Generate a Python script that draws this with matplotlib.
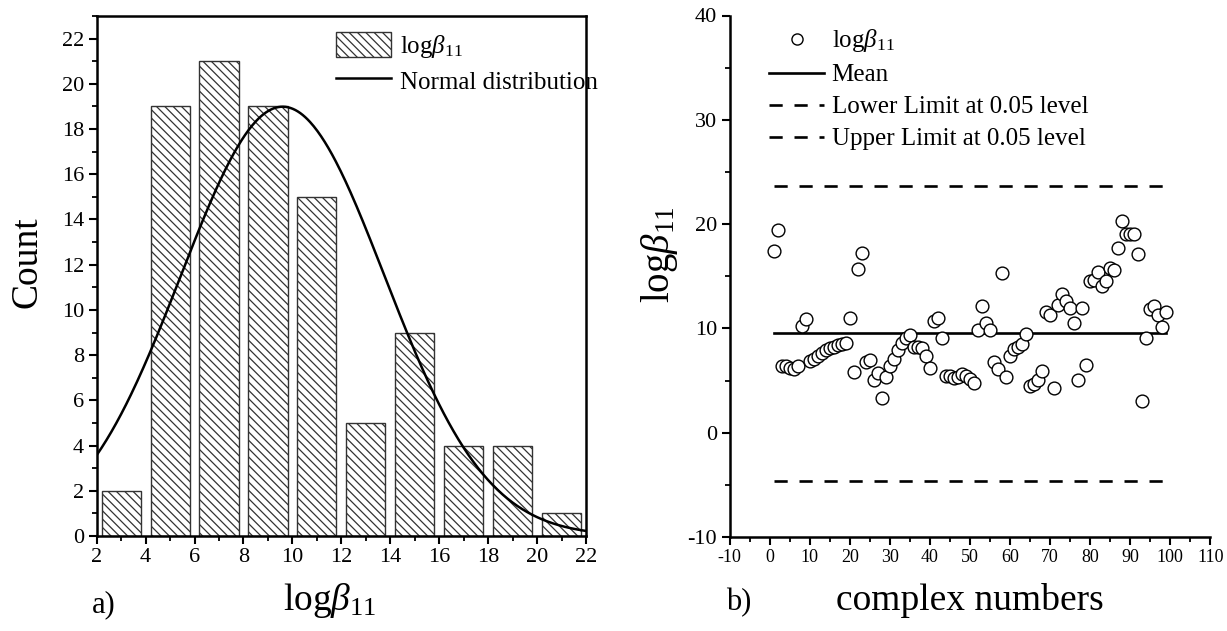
import numpy as np
import matplotlib
matplotlib.use("Agg")
import matplotlib.pyplot as plt
from matplotlib.ticker import MultipleLocator
from matplotlib.patches import Patch
from matplotlib.lines import Line2D

# ---------------- data ----------------
bin_centers = [3, 5, 7, 9, 11, 13, 15, 17, 19, 21]
bin_counts = [2, 19, 21, 19, 15, 5, 9, 4, 4, 1]
bin_width = 2.0
fit_mean = 9.6
fit_sd = 4.16

complex_index = list(range(1, 100))
log_beta = [
    17.45, 19.4, 6.4, 6.35, 6.25, 6.1, 6.4, 10.2, 10.9, 6.9,
    7.1, 7.4, 7.6, 7.9, 8.1, 8.25, 8.4, 8.5, 8.6, 11.0,
    5.85, 15.7, 17.2, 6.75, 7.0, 5.05, 5.75, 3.35, 5.3, 6.4,
    7.1, 7.9, 8.6, 9.05, 9.35, 8.25, 8.25, 8.1, 7.4, 6.2,
    10.75, 11.0, 9.05, 5.45, 5.4, 5.2, 5.35, 5.6, 5.4, 5.15,
    4.8, 9.85, 12.1, 10.55, 9.85, 6.75, 6.1, 15.3, 5.3, 7.4,
    8.05, 8.2, 8.5, 9.45, 4.5, 4.7, 5.1, 5.9, 11.55, 11.3,
    4.3, 12.25, 13.3, 12.65, 11.95, 10.5, 5.05, 11.95, 6.5, 14.5,
    14.65, 15.45, 14.05, 14.5, 15.75, 15.6, 17.7, 20.3, 19.05, 19.05,
    19.05, 17.15, 3.05, 9.05, 11.9, 12.1, 11.3, 10.15, 11.6,
]
mean_value = 9.55
lower_limit = -4.6
upper_limit = 23.65

# ---------------- style ----------------
plt.rcParams["font.family"] = ["Liberation Serif", "DejaVu Serif"]
plt.rcParams["mathtext.fontset"] = "custom"
plt.rcParams["mathtext.rm"] = "Liberation Serif"
plt.rcParams["mathtext.it"] = "Liberation Serif:italic"
plt.rcParams["mathtext.bf"] = "Liberation Serif:bold"
plt.rcParams["hatch.linewidth"] = 0.9
plt.rcParams["lines.scale_dashes"] = False
plt.rcParams["axes.unicode_minus"] = False

LB = r"$\mathrm{log}\beta_{11}$"

W, H = 1227, 631
fig = plt.figure(figsize=(W / 100, H / 100), dpi=100)


def frac(x0, y0, x1, y1):
    return [x0 / W, 1 - y1 / H, (x1 - x0) / W, (y1 - y0) / H]


def style_ticks(ax, fs):
    ax.tick_params(which="major", direction="out", length=6, width=1.5,
                   labelsize=fs, pad=3)
    ax.tick_params(which="minor", direction="out", length=3.5, width=1.3)


# ---------------- left: histogram ----------------
ax1 = fig.add_axes(frac(96.7, 16, 586, 536))
n_total = sum(bin_counts)
ax1.bar(bin_centers, bin_counts, width=1.6, color="white",
        edgecolor="#333333", linewidth=1.0, hatch="\\\\\\\\", zorder=2)
xs = np.linspace(2, 22, 400)
ys = n_total * bin_width / (fit_sd * np.sqrt(2 * np.pi)) * \
    np.exp(-0.5 * ((xs - fit_mean) / fit_sd) ** 2)
ax1.plot(xs, ys, color="black", lw=1.8, zorder=3)
ax1.set_xlim(2, 22)
ax1.set_ylim(0, 23)
ax1.xaxis.set_major_locator(MultipleLocator(2))
ax1.xaxis.set_minor_locator(MultipleLocator(1))
ax1.yaxis.set_major_locator(MultipleLocator(2))
ax1.yaxis.set_minor_locator(MultipleLocator(1))
style_ticks(ax1, 16)
for s in ax1.spines.values():
    s.set_linewidth(1.8)

h_patch = Patch(facecolor="white", edgecolor="#333333", hatch="\\\\\\\\",
                linewidth=1.0)
h_line = Line2D([], [], color="black", lw=1.8)
ax1.legend([h_patch, h_line], [LB, "Normal distribution"],
           loc="upper left", bbox_to_anchor=(0.49, 0.970),
           frameon=False, fontsize=18, borderpad=0, borderaxespad=0,
           handlelength=2.2, handleheight=1.2, handletextpad=0.35,
           labelspacing=0.3)

fig.text(27 / W, 1 - 262 / H, "Count", rotation=90, ha="center",
         va="center", fontsize=27)
fig.text(330 / W, 1 - 610 / H, LB, ha="center", va="baseline", fontsize=27)
fig.text(92 / W, 1 - 612 / H, "a)", ha="left", va="baseline", fontsize=22)

# ---------------- right: scatter ----------------
ax2 = fig.add_axes(frac(729.6, 15.5, 1210.4, 537))
ax2.plot(complex_index, log_beta, linestyle="none", marker="o",
         markersize=9.2, markerfacecolor="white", markeredgecolor="black",
         markeredgewidth=1.0, zorder=3)
x_first, x_last = complex_index[0], complex_index[-1]
ax2.plot([x_first, x_last], [mean_value, mean_value], color="black",
         lw=1.9, zorder=2)
ax2.plot([x_first, x_last], [lower_limit, lower_limit], color="black",
         lw=1.9, dashes=(9.5, 8.5), zorder=2)
ax2.plot([x_first, x_last], [upper_limit, upper_limit], color="black",
         lw=1.9, dashes=(9.5, 8.5), zorder=2)
ax2.set_xlim(-10, 110)
ax2.set_ylim(-10, 40)
ax2.xaxis.set_major_locator(MultipleLocator(10))
ax2.xaxis.set_minor_locator(MultipleLocator(5))
ax2.yaxis.set_major_locator(MultipleLocator(10))
ax2.yaxis.set_minor_locator(MultipleLocator(5))
style_ticks(ax2, 16)
ax2.tick_params(axis="x", labelsize=13)
ax2.spines["top"].set_visible(False)
ax2.spines["right"].set_visible(False)
for s in ("left", "bottom"):
    ax2.spines[s].set_linewidth(1.8)

hm = Line2D([], [], linestyle="none", marker="o", markersize=8,
            markerfacecolor="white", markeredgecolor="black",
            markeredgewidth=1.0)
hmean = Line2D([], [], color="black", lw=1.9)
hlow = Line2D([], [], color="black", lw=1.9, dashes=(9.5, 8.5))
hup = Line2D([], [], color="black", lw=1.9, dashes=(9.5, 8.5))
ax2.legend([hm, hmean, hlow, hup],
           [LB, "Mean", "Lower Limit at 0.05 level",
            "Upper Limit at 0.05 level"],
           loc="upper left", bbox_to_anchor=(0.082, 0.977), frameon=False,
           fontsize=18, borderpad=0, borderaxespad=0, handlelength=2.2,
           handletextpad=0.3, labelspacing=0.38)

fig.text(659 / W, 1 - 255 / H, LB, rotation=90, ha="center", va="center",
         fontsize=28)
fig.text(970 / W, 1 - 610 / H, "complex numbers", ha="center",
         va="baseline", fontsize=27)
fig.text(726 / W, 1 - 610 / H, "b)", ha="left", va="baseline", fontsize=22)

fig.savefig("out.png", dpi=100)
